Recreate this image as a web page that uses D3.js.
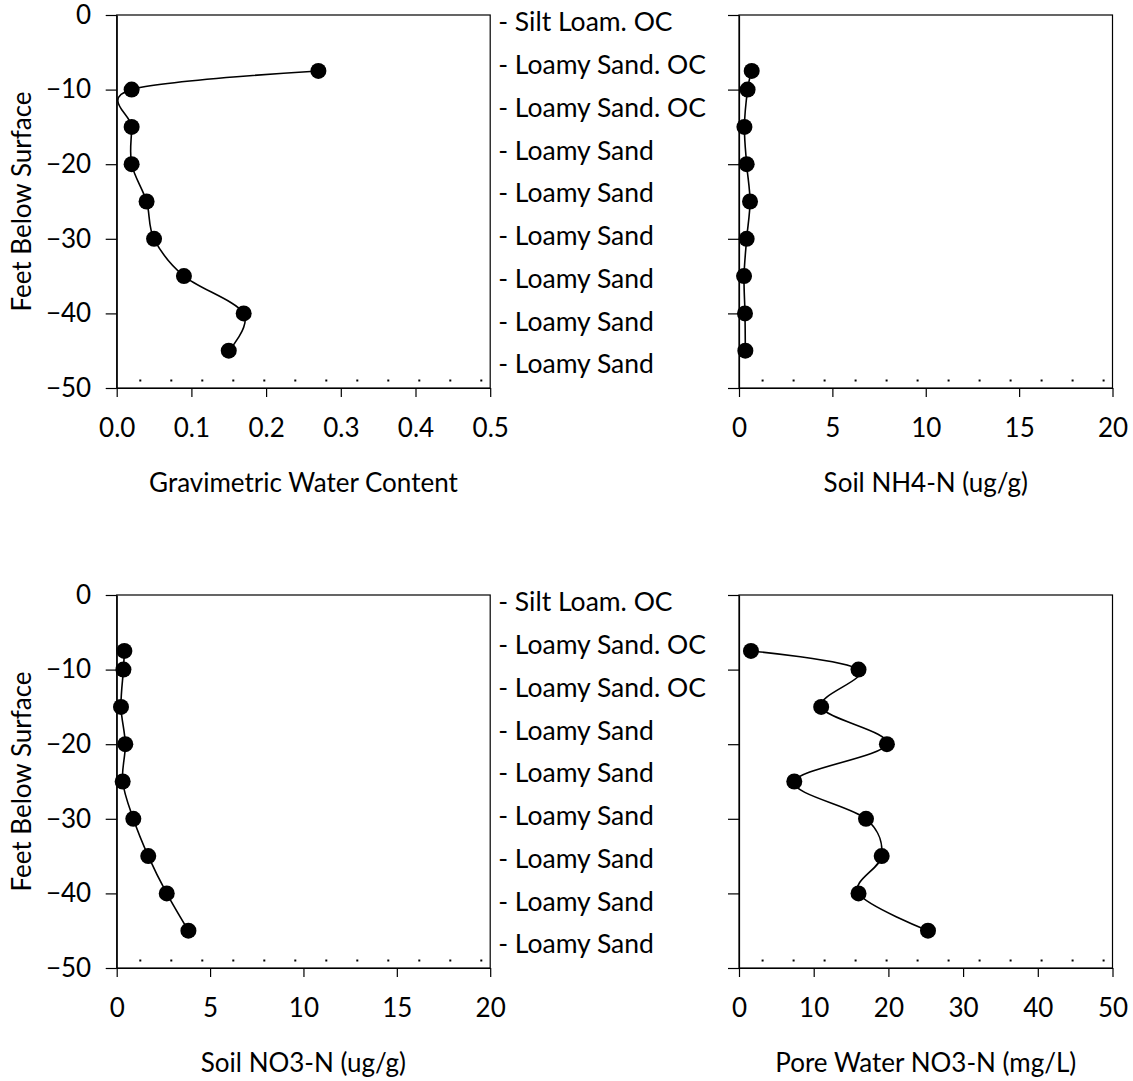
<!DOCTYPE html>
<html>
<head>
<meta charset="utf-8">
<script src="https://cdn.jsdelivr.net/npm/d3@7"></script>
<style>
  html, body { margin: 0; padding: 0; background: #fff; }
  svg { display: block; }
  text { font-family: Lato, "Open Sans", sans-serif; fill: #000; }
</style>
</head>
<body>
<svg id="chart" width="1133" height="1081"></svg>
<script>
// ---- data ----
const depths = [-7.5, -10, -15, -20, -25, -30, -35, -40, -45];
const gravimetricWater = [0.27, 0.02, 0.02, 0.02, 0.04, 0.05, 0.09, 0.17, 0.15];
const soilNH4 = [0.68, 0.46, 0.29, 0.41, 0.59, 0.41, 0.27, 0.32, 0.34];
const soilNO3 = [0.41, 0.36, 0.23, 0.46, 0.32, 0.89, 1.69, 2.68, 3.84];
const poreWaterNO3 = [1.6, 16.0, 11.0, 19.8, 7.4, 17.0, 19.1, 16.0, 25.3];
const soilLabels = ["- Silt Loam. OC", "- Loamy Sand. OC", "- Loamy Sand. OC",
  "- Loamy Sand", "- Loamy Sand", "- Loamy Sand", "- Loamy Sand", "- Loamy Sand", "- Loamy Sand"];
const depthTicks = [0, -10, -20, -30, -40, -50];
const gravTicks = [0, 0.1, 0.2, 0.3, 0.4, 0.5];
const ugTicks = [0, 5, 10, 15, 20];
const mgTicks = [0, 10, 20, 30, 40, 50];
const referenceDepth = -49;

const panels = [
  { values: gravimetricWater, domain: [0, 0.5], ticks: gravTicks, fmt: d3.format(".1f"), title: "Gravimetric Water Content", left: true, x0: 116.7, y0: 15 },
  { values: soilNH4, domain: [0, 20], ticks: ugTicks, fmt: d3.format("d"), title: "Soil NH4-N (ug/g)", left: false, x0: 739, y0: 15 },
  { values: soilNO3, domain: [0, 20], ticks: ugTicks, fmt: d3.format("d"), title: "Soil NO3-N (ug/g)", left: true, x0: 116.7, y0: 595 },
  { values: poreWaterNO3, domain: [0, 50], ticks: mgTicks, fmt: d3.format("d"), title: "Pore Water NO3-N (mg/L)", left: false, x0: 739, y0: 595 }
];

const W = 373.5, H = 373;
const FS = 26;
const LFS = 26.5;
const svg = d3.select("#chart");

panels.forEach(p => {
  const g = svg.append("g").attr("transform", `translate(${p.x0},${p.y0})`);
  const x = d3.scaleLinear().domain(p.domain).range([0, W]);
  const y = d3.scaleLinear().domain([0, -50]).range([0, H]);

  // box
  g.append("rect").attr("x", 0).attr("y", 0).attr("width", W).attr("height", H)
    .attr("fill", "none").attr("stroke", "#000").attr("stroke-width", 1.2);

  // reference dotted line
  g.append("line")
    .attr("x1", x(p.domain[0])).attr("x2", x(p.domain[1]))
    .attr("y1", y(referenceDepth)).attr("y2", y(referenceDepth))
    .attr("stroke", "#000").attr("stroke-width", 2)
    .attr("stroke-dasharray", "2,29").attr("stroke-dashoffset", 8.4);

  // y axis
  const ya = g.append("g").call(
    d3.axisLeft(y).tickValues(depthTicks).tickSize(11).tickSizeOuter(0).tickPadding(14.5)
      .tickFormat(p.left ? d3.format("d") : "")
  );
  ya.selectAll("path, line").attr("stroke", "#000").attr("stroke-width", 1.2);
  ya.selectAll("text").style("font-size", FS + "px").style("font-family", "Lato").attr("fill", "#000");

  // x axis
  const xa = g.append("g").attr("transform", `translate(0,${H})`).call(
    d3.axisBottom(x).tickValues(p.ticks).tickSize(9).tickSizeOuter(0).tickPadding(21.5).tickFormat(p.fmt)
  );
  xa.selectAll("path, line").attr("stroke", "#000").attr("stroke-width", 1.2);
  xa.selectAll("text").style("font-size", FS + "px").style("font-family", "Lato").attr("fill", "#000");

  // x title (centred on the panel)
  svg.append("text").attr("x", p.x0 + W / 2).attr("y", p.y0 + H + 95).attr("dy", "0.35em")
    .attr("text-anchor", "middle").style("font-size", FS + "px").text(p.title);

  // y title
  if (p.left) {
    svg.append("text").attr("transform", `translate(22,${p.y0 + H / 2}) rotate(-90)`)
      .attr("dy", "0.35em").attr("text-anchor", "middle").style("font-size", FS + "px")
      .text("Feet Below Surface");

    // soil labels to the right
    const ly = d3.scalePoint().domain(d3.range(soilLabels.length)).range([p.y0 + 7, p.y0 + 349]);
    svg.append("g").selectAll("text").data(soilLabels).join("text")
      .attr("x", p.x0 + W + 8).attr("y", (d, i) => ly(i)).attr("dy", "0.35em")
      .style("font-size", LFS + "px").text(d => d);
  }

  // data
  const pts = depths.map((d, i) => [x(p.values[i]), y(d)]);
  g.append("path").attr("d", d3.line().curve(d3.curveCatmullRom.alpha(0))(pts))
    .attr("fill", "none").attr("stroke", "#000").attr("stroke-width", 1.6);
  g.selectAll("circle").data(pts).join("circle")
    .attr("cx", d => d[0]).attr("cy", d => d[1]).attr("r", 8).attr("fill", "#000");
});
</script>
</body>
</html>
